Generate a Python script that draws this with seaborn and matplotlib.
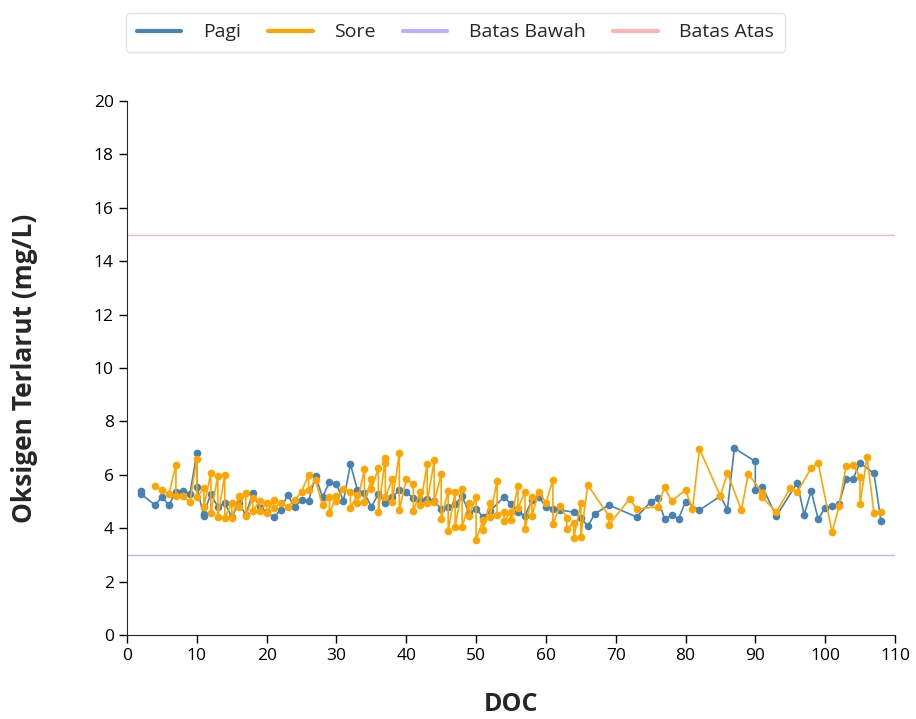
import pandas as pd
import seaborn as sns
import matplotlib.pyplot as plt
from matplotlib.lines import Line2D

# %% data
pagi_doc = [2, 2, 4, 5, 6, 7, 8, 9, 10, 10, 11, 11, 12, 13, 14, 15, 16, 17, 18, 19,
            20, 21, 22, 23, 24, 25, 26, 27, 28, 29, 30, 31, 32, 33, 34, 35, 36, 37, 38, 39,
            40, 41, 42, 43, 44, 45, 46, 47, 48, 49, 50, 51, 52, 54, 55, 56, 57, 58, 59, 60,
            61, 62, 64, 65, 66, 67, 69, 73, 75, 76, 77, 78, 79, 80, 82, 85, 86, 87, 90, 90,
            91, 93, 96, 97, 98, 99, 100, 101, 102, 103, 104, 105, 107, 108]
pagi_do = [5.40, 5.28, 4.87, 5.17, 4.87, 5.37, 5.40, 5.28, 6.82, 5.53, 4.45, 4.55, 5.28, 4.80, 4.95, 4.42, 4.95, 4.50, 5.32, 4.80,
           4.60, 4.42, 4.68, 5.25, 4.80, 5.05, 5.02, 5.95, 5.17, 5.73, 5.65, 5.02, 6.40, 5.43, 5.32, 4.80, 5.28, 4.95, 5.17, 5.43,
           5.35, 5.13, 5.05, 5.10, 5.02, 4.72, 4.80, 4.90, 5.20, 4.57, 4.72, 4.42, 4.65, 5.17, 4.90, 4.60, 4.47, 5.05, 5.17, 4.80,
           4.72, 4.68, 4.60, 4.37, 4.08, 4.53, 4.87, 4.42, 4.98, 5.13, 4.35, 4.48, 4.35, 5.00, 4.68, 5.20, 4.70, 7.00, 6.50, 5.45,
           5.55, 4.45, 5.70, 4.50, 5.40, 4.35, 4.75, 4.85, 4.90, 5.85, 5.85, 6.45, 6.05, 4.27]

sore_doc = [4, 5, 6, 7, 7, 8, 9, 10, 10, 11, 11, 12, 12, 13, 13, 14, 14, 15, 15, 16,
            16, 17, 17, 18, 18, 19, 19, 20, 20, 21, 21, 22, 23, 24, 25, 26, 26, 27, 28, 29,
            29, 30, 30, 31, 32, 32, 33, 33, 34, 34, 35, 35, 36, 36, 37, 37, 37, 38, 38, 39,
            39, 40, 41, 41, 42, 42, 43, 43, 44, 44, 45, 45, 46, 46, 47, 47, 48, 48, 49, 49,
            50, 50, 51, 51, 52, 52, 53, 53, 54, 54, 55, 55, 56, 56, 57, 57, 58, 58, 59, 60,
            61, 61, 62, 63, 63, 64, 64, 65, 65, 66, 69, 69, 72, 73, 76, 77, 78, 80, 81, 82,
            85, 86, 88, 89, 91, 91, 93, 95, 96, 98, 99, 101, 102, 103, 104, 105, 105, 106, 107, 108]
sore_do = [5.58, 5.43, 5.28, 6.37, 5.20, 5.20, 4.98, 6.60, 5.17, 5.50, 4.80, 6.07, 4.57, 5.95, 4.42, 6.00, 4.38, 4.95, 4.38, 5.20,
           4.80, 5.32, 4.45, 5.13, 4.65, 5.02, 4.65, 4.95, 4.57, 5.05, 4.75, 4.95, 4.80, 5.05, 5.37, 6.00, 5.43, 5.80, 4.87, 5.17,
           4.57, 5.20, 5.02, 5.47, 5.37, 4.75, 5.25, 4.95, 6.22, 4.98, 5.83, 5.47, 6.25, 4.60, 6.63, 6.45, 5.17, 5.83, 4.98, 6.82,
           4.68, 5.83, 5.65, 4.65, 5.37, 4.87, 6.40, 4.95, 6.55, 4.98, 6.03, 4.35, 5.40, 3.90, 5.35, 4.05, 5.47, 4.05, 4.95, 4.47,
           5.17, 3.57, 4.30, 3.93, 4.95, 4.42, 5.77, 4.50, 4.60, 4.27, 4.60, 4.30, 5.60, 4.75, 5.35, 3.97, 5.17, 4.47, 5.37, 4.95,
           5.80, 4.15, 4.83, 4.40, 3.97, 4.20, 3.63, 4.95, 3.68, 5.62, 4.47, 4.12, 5.10, 4.72, 4.80, 5.53, 5.02, 5.43, 4.72, 6.97,
           5.20, 6.07, 4.68, 6.03, 5.33, 5.17, 4.60, 5.50, 5.35, 6.25, 6.45, 3.85, 4.83, 6.33, 6.37, 5.92, 4.90, 6.67, 4.57, 4.60]

batas_bawah = 3
batas_atas = 15

pagi = pd.DataFrame({'DOC': pagi_doc, 'DO': pagi_do})
sore = pd.DataFrame({'DOC': sore_doc, 'DO': sore_do})

# %% plot
sns.set_style('ticks')
plt.rcParams['font.family'] = ['Open Sans', 'DejaVu Sans']

fig = plt.figure(figsize=(9.16, 7.19), dpi=100)
ax = fig.add_axes([0.1387, 0.1168, 0.8383, 0.7427])

sns.lineplot(data=pagi, x='DOC', y='DO', estimator=None, sort=False, color='#4682b4',
             marker='o', markersize=5.5, markeredgewidth=0, linewidth=1.2, legend=False, ax=ax)
sns.lineplot(data=sore, x='DOC', y='DO', estimator=None, sort=False, color='#ffa500',
             marker='o', markersize=5.5, markeredgewidth=0, linewidth=1.2, legend=False, ax=ax)
ax.axhline(batas_bawah, color='#b3b3ff', linewidth=1.0)
ax.axhline(batas_atas, color='#ffb3b3', linewidth=1.0)

ax.set_xlim(0, 110)
ax.set_ylim(0, 20)
ax.set_xticks(range(0, 111, 10))
ax.set_yticks(range(0, 21, 2))
ax.tick_params(labelsize=12.5, length=6, width=1, colors='black')
sns.despine(ax=ax)
ax.set_xlabel('DOC', fontsize=18, fontweight='bold', labelpad=20)
ax.set_ylabel('Oksigen Terlarut (mg/L)', fontsize=19, fontweight='bold', labelpad=40)

handles = [Line2D([], [], color=c, linewidth=3) for c in ['#4682b4', '#ffa500', '#b3b3ff', '#ffb3b3']]
labels = ['Pagi', 'Sore', 'Batas Bawah', 'Batas Atas']
fig.legend(handles, labels, ncol=4, loc='center', bbox_to_anchor=(0.497, 0.955),
           fontsize=14, frameon=True, edgecolor='#dddddd', fancybox=True,
           handlelength=2.3, handletextpad=1.1, columnspacing=1.4, borderpad=0.55)

fig.savefig('out.png', dpi=100)
